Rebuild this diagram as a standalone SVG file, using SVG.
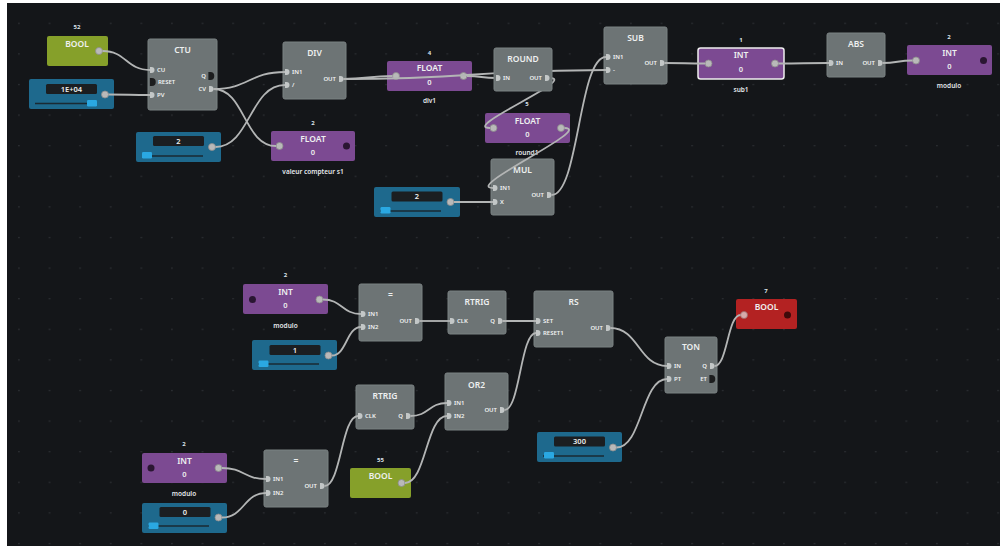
<svg xmlns="http://www.w3.org/2000/svg" xmlns:xlink="http://www.w3.org/1999/xlink" width="1000" height="546" viewBox="0 0 1000 546">
  <style>
    .fn { fill: #6d7475; stroke: #7b8283; stroke-width: 1; }
    .pu { fill: #7c4a92; }
    .gr { fill: #86a02a; }
    .rd { fill: #b32222; }
    .sl { fill: #1e698d; }
    .tb { fill: #1b1e21; }
    .trk { stroke: #1a2a33; stroke-width: 1.6; }
    .th { fill: #2aa8e2; }
    .ttl { font-family: "Noto Sans", "Liberation Sans", sans-serif; font-size: 8.5px; font-weight: 600; fill: #eef0f0; text-anchor: middle; }
    .pl { font-family: "Noto Sans", "Liberation Sans", sans-serif; font-size: 6px; font-weight: 600; fill: #f0f2f2; }
    .pr { font-family: "Noto Sans", "Liberation Sans", sans-serif; font-size: 6px; font-weight: 600; fill: #f0f2f2; text-anchor: end; }
    .val { font-family: "Noto Sans", "Liberation Sans", sans-serif; font-size: 7.5px; font-weight: 600; fill: #eceeee; text-anchor: middle; }
    .cap { font-family: "Noto Sans", "Liberation Sans", sans-serif; font-size: 6px; font-weight: 700; fill: #dce3ea; text-anchor: middle; }
    .sub { font-family: "Noto Sans", "Liberation Sans", sans-serif; font-size: 6.5px; font-weight: 600; fill: #e4e8ec; text-anchor: middle; }
    .w { fill: none; stroke: #b3b5b5; stroke-width: 1.8; }
    .pin { fill: #c3c7c7; }
    .pinD { fill: #1c1d1e; }
    .po { fill: #b9b9b9; stroke: #8c8c8c; stroke-width: 0.8; }
    .pd { fill: #2a1632; }
    .sel { stroke: #eeeeee; stroke-width: 1.5; }
  </style>
  <defs>
    <pattern id="grid" patternUnits="userSpaceOnUse" x="18" y="22.7" width="30.6" height="30.6">
      <rect x="0" y="0" width="1.8" height="1.2" fill="#2b2e32"/>
    </pattern>
    <path id="pin" d="M-2,-3 h1.5 a3,3 0 0 1 0,6 h-1.5 z"/>
  </defs>

  <!-- canvas -->
  <rect x="0" y="0" width="1000" height="546" fill="#ffffff"/>
  <rect x="7" y="3" width="993" height="543" fill="#141619"/>
  <rect x="7" y="3" width="993" height="543" fill="url(#grid)"/>

  <!-- ===== value / function nodes (under the wires) ===== -->
  <g id="bool-52">
    <rect class="gr" x="47" y="36" width="61" height="30" rx="2"/>
    <text class="cap" x="77" y="29">52</text>
    <text class="ttl" x="77" y="47">BOOL</text>
    <circle class="po" cx="99" cy="51" r="3.5"/>
  </g>

  <g id="slider-pv">
    <rect class="sl" x="29" y="79" width="85" height="30" rx="2"/>
    <rect class="tb" x="46" y="84" width="51" height="10" rx="1.5"/>
    <text class="val" x="71.5" y="91.7">1E+04</text>
    <line class="trk" x1="35" y1="103.5" x2="96" y2="103.5"/>
    <rect class="th" x="87" y="100" width="10" height="6.5" rx="1.2"/>
    <circle class="po" cx="105" cy="94.5" r="3.5"/>
  </g>

  <g id="ctu">
    <rect class="fn" x="148" y="39" width="69" height="71" rx="2"/>
    <text class="ttl" x="182.5" y="53">CTU</text>
    <use xlink:href="#pin" class="pin" x="152" y="70"/>
    <use xlink:href="#pin" class="pinD" transform="translate(152.5,82) scale(1.3)"/>
    <use xlink:href="#pin" class="pin" x="152" y="95"/>
    <use xlink:href="#pin" class="pinD" transform="translate(211,76) scale(1.3)"/>
    <use xlink:href="#pin" class="pin" x="211" y="89"/>
    <text class="pl" x="157" y="72.2">CU</text>
    <text class="pl" x="158" y="84.2">RESET</text>
    <text class="pl" x="157" y="97.2">PV</text>
    <text class="pr" x="206" y="78.2">Q</text>
    <text class="pr" x="206" y="91.2">CV</text>
  </g>

  <g id="slider-div">
    <rect class="sl" x="136" y="132" width="85" height="30" rx="2"/>
    <rect class="tb" x="153" y="136" width="51" height="10" rx="1.5"/>
    <text class="val" x="178.5" y="143.7">2</text>
    <line class="trk" x1="142" y1="156" x2="203" y2="156"/>
    <rect class="th" x="142" y="152" width="10" height="6.5" rx="1.2"/>
    <circle class="po" cx="212" cy="147" r="3.5"/>
  </g>

  <g id="div">
    <rect class="fn" x="283" y="42" width="63" height="57" rx="2"/>
    <text class="ttl" x="314.5" y="56">DIV</text>
    <use xlink:href="#pin" class="pin" x="287" y="72"/>
    <use xlink:href="#pin" class="pin" x="287" y="85"/>
    <use xlink:href="#pin" class="pin" x="341" y="79"/>
    <text class="pl" x="292" y="74.2">IN1</text>
    <text class="pl" x="292" y="87.2">/</text>
    <text class="pr" x="336" y="81.2">OUT</text>
  </g>

  <g id="float-valeur">
    <rect class="pu" x="271" y="131" width="84" height="30" rx="2"/>
    <text class="cap" x="313" y="124.5">2</text>
    <text class="ttl" x="313" y="141.5">FLOAT</text>
    <text class="val" x="313" y="154.8">0</text>
    <circle class="po" cx="279.5" cy="146" r="3.5"/>
    <circle class="pd" cx="346.5" cy="146" r="3.5"/>
    <text class="sub" x="313" y="174">valeur compteur s1</text>
  </g>

  <g id="float-div1">
    <rect class="pu" x="387" y="61" width="85" height="30" rx="2"/>
    <text class="cap" x="429.5" y="54.5">4</text>
    <text class="ttl" x="429.5" y="71.3">FLOAT</text>
    <text class="val" x="429.5" y="85">0</text>
    <circle class="po" cx="396" cy="76" r="3.5"/>
    <circle class="po" cx="463.5" cy="76" r="3.5"/>
    <text class="sub" x="429.5" y="103">div1</text>
  </g>

  <g id="float-round1">
    <rect class="pu" x="485" y="113" width="85" height="30" rx="2"/>
    <text class="cap" x="527" y="106">5</text>
    <text class="ttl" x="527.5" y="123.5">FLOAT</text>
    <text class="val" x="527.5" y="137">0</text>
    <circle class="po" cx="493.5" cy="128" r="3.5"/>
    <circle class="po" cx="561" cy="128" r="3.5"/>
    <text class="sub" x="527" y="155">round1</text>
  </g>

  <g id="slider-mul">
    <rect class="sl" x="374" y="187" width="86" height="30" rx="2"/>
    <rect class="tb" x="391.5" y="191.5" width="51" height="10" rx="1.5"/>
    <text class="val" x="417" y="199.2">2</text>
    <line class="trk" x1="380" y1="211" x2="441" y2="211"/>
    <rect class="th" x="380.5" y="207" width="10" height="6.5" rx="1.2"/>
    <circle class="po" cx="450.5" cy="202" r="3.5"/>
  </g>

  <g id="mul">
    <rect class="fn" x="491" y="159" width="63" height="56" rx="2"/>
    <text class="ttl" x="522.5" y="173">MUL</text>
    <use xlink:href="#pin" class="pin" x="495" y="188"/>
    <use xlink:href="#pin" class="pin" x="495" y="202"/>
    <use xlink:href="#pin" class="pin" x="549" y="195"/>
    <text class="pl" x="500" y="190.2">IN1</text>
    <text class="pl" x="500" y="204.2">X</text>
    <text class="pr" x="544" y="197.2">OUT</text>
  </g>

  <g id="sub">
    <rect class="fn" x="604" y="27" width="63" height="57" rx="2"/>
    <text class="ttl" x="635.5" y="41">SUB</text>
    <use xlink:href="#pin" class="pin" x="608" y="57"/>
    <use xlink:href="#pin" class="pin" x="608" y="70"/>
    <use xlink:href="#pin" class="pin" x="662" y="63"/>
    <text class="pl" x="613" y="59.2">IN1</text>
    <text class="pl" x="613" y="72.2">-</text>
    <text class="pr" x="657" y="65.2">OUT</text>
  </g>

  <g id="int-sub1">
    <rect class="pu sel" x="698" y="48" width="86" height="31" rx="2.5"/>
    <text class="cap" x="741" y="41.5">1</text>
    <text class="ttl" x="741" y="58.3">INT</text>
    <text class="val" x="741" y="72">0</text>
    <circle class="po" cx="708.5" cy="63.5" r="3.5"/>
    <circle class="po" cx="775" cy="63.5" r="3.5"/>
    <text class="sub" x="741" y="91.5">sub1</text>
  </g>

  <g id="abs">
    <rect class="fn" x="827" y="33" width="58" height="44" rx="2"/>
    <text class="ttl" x="856" y="47">ABS</text>
    <use xlink:href="#pin" class="pin" x="831" y="63"/>
    <use xlink:href="#pin" class="pin" x="880" y="63"/>
    <text class="pl" x="836" y="65.2">IN</text>
    <text class="pr" x="875" y="65.2">OUT</text>
  </g>

  <g id="int-modulo">
    <rect class="pu" x="907" y="45" width="85" height="30" rx="2"/>
    <text class="cap" x="949" y="39">2</text>
    <text class="ttl" x="949.5" y="55.7">INT</text>
    <text class="val" x="949.5" y="68.5">0</text>
    <circle class="po" cx="916" cy="60.5" r="3.5"/>
    <circle class="pd" cx="983.5" cy="60.5" r="3.5"/>
    <text class="sub" x="949" y="87.5">modulo</text>
  </g>

  <!-- lower network -->
  <g id="int-modulo-a">
    <rect class="pu" x="243" y="284" width="85" height="30" rx="2"/>
    <text class="cap" x="285.5" y="277">2</text>
    <text class="ttl" x="285.5" y="294.7">INT</text>
    <text class="val" x="285.5" y="307.8">0</text>
    <circle class="pd" cx="252.5" cy="299.5" r="3.5"/>
    <circle class="po" cx="319.5" cy="299.5" r="3.5"/>
    <text class="sub" x="285.5" y="327.5">modulo</text>
  </g>

  <g id="slider-eq-a">
    <rect class="sl" x="252" y="340" width="85" height="30" rx="2"/>
    <rect class="tb" x="269.5" y="345" width="51" height="10" rx="1.5"/>
    <text class="val" x="295" y="352.7">1</text>
    <line class="trk" x1="258" y1="364" x2="319" y2="364"/>
    <rect class="th" x="258.5" y="360.5" width="10" height="6.5" rx="1.2"/>
    <circle class="po" cx="328.5" cy="355.5" r="3.5"/>
  </g>

  <g id="eq-a">
    <rect class="fn" x="359" y="284" width="63" height="57" rx="2"/>
    <text class="ttl" x="390.5" y="298">=</text>
    <use xlink:href="#pin" class="pin" x="363" y="314"/>
    <use xlink:href="#pin" class="pin" x="363" y="327"/>
    <use xlink:href="#pin" class="pin" x="417" y="321"/>
    <text class="pl" x="368" y="316.2">IN1</text>
    <text class="pl" x="368" y="329.2">IN2</text>
    <text class="pr" x="412" y="323.2">OUT</text>
  </g>

  <g id="rtrig-a">
    <rect class="fn" x="448" y="291" width="58" height="43" rx="2"/>
    <text class="ttl" x="477" y="305">RTRIG</text>
    <use xlink:href="#pin" class="pin" x="452" y="321"/>
    <use xlink:href="#pin" class="pin" x="500" y="321"/>
    <text class="pl" x="457" y="323.2">CLK</text>
    <text class="pr" x="495" y="323.2">Q</text>
  </g>

  <g id="rs">
    <rect class="fn" x="534" y="291" width="79" height="56" rx="2"/>
    <text class="ttl" x="573.5" y="305">RS</text>
    <use xlink:href="#pin" class="pin" x="538" y="321"/>
    <use xlink:href="#pin" class="pin" x="538" y="333"/>
    <use xlink:href="#pin" class="pin" x="608" y="328"/>
    <text class="pl" x="543" y="323.2">SET</text>
    <text class="pl" x="543" y="335.2">RESET1</text>
    <text class="pr" x="603" y="330.2">OUT</text>
  </g>

  <g id="ton">
    <rect class="fn" x="665" y="337" width="52" height="56" rx="2"/>
    <text class="ttl" x="691" y="350">TON</text>
    <use xlink:href="#pin" class="pin" x="669" y="366"/>
    <use xlink:href="#pin" class="pin" x="669" y="379"/>
    <use xlink:href="#pin" class="pin" x="712" y="366"/>
    <use xlink:href="#pin" class="pinD" transform="translate(712,379) scale(1.3)"/>
    <text class="pl" x="674" y="368.2">IN</text>
    <text class="pl" x="674" y="381.2">PT</text>
    <text class="pr" x="707" y="368.2">Q</text>
    <text class="pr" x="707" y="381.2">ET</text>
  </g>

  <g id="bool-7">
    <rect class="rd" x="736" y="299" width="61" height="30" rx="2"/>
    <text class="cap" x="766" y="293">7</text>
    <text class="ttl" x="766.5" y="310">BOOL</text>
    <circle cx="744" cy="315" r="3.5" fill="#d6aaaa" stroke="#9a6a6a" stroke-width="0.8"/>
    <circle cx="787.5" cy="315" r="3.5" fill="#3e0a0a"/>
  </g>

  <g id="slider-pt">
    <rect class="sl" x="537" y="432" width="85" height="30" rx="2"/>
    <rect class="tb" x="554" y="436.5" width="51" height="10" rx="1.5"/>
    <text class="val" x="579.5" y="444.2">300</text>
    <line class="trk" x1="543" y1="456" x2="604" y2="456"/>
    <rect class="th" x="544" y="452" width="10" height="6.5" rx="1.2"/>
    <circle class="po" cx="613" cy="447.5" r="3.5"/>
  </g>

  <g id="or2">
    <rect class="fn" x="445" y="373" width="63" height="57" rx="2"/>
    <text class="ttl" x="476.5" y="388">OR2</text>
    <use xlink:href="#pin" class="pin" x="449" y="403"/>
    <use xlink:href="#pin" class="pin" x="449" y="416"/>
    <use xlink:href="#pin" class="pin" x="502" y="410"/>
    <text class="pl" x="454" y="405.2">IN1</text>
    <text class="pl" x="454" y="418.2">IN2</text>
    <text class="pr" x="497" y="412.2">OUT</text>
  </g>

  <g id="rtrig-b">
    <rect class="fn" x="356" y="385" width="58" height="44" rx="2"/>
    <text class="ttl" x="385" y="399">RTRIG</text>
    <use xlink:href="#pin" class="pin" x="360" y="416"/>
    <use xlink:href="#pin" class="pin" x="408" y="416"/>
    <text class="pl" x="365" y="418.2">CLK</text>
    <text class="pr" x="403" y="418.2">Q</text>
  </g>

  <g id="int-modulo-b">
    <rect class="pu" x="142" y="453" width="85" height="30" rx="2"/>
    <text class="cap" x="184" y="446">2</text>
    <text class="ttl" x="184.5" y="463.7">INT</text>
    <text class="val" x="184.5" y="476.8">0</text>
    <circle class="pd" cx="151" cy="468" r="3.5"/>
    <circle class="po" cx="218.5" cy="468" r="3.5"/>
    <text class="sub" x="184" y="496">modulo</text>
  </g>

  <g id="slider-eq-b">
    <rect class="sl" x="142" y="503" width="85" height="30" rx="2"/>
    <rect class="tb" x="159.5" y="507" width="51" height="10" rx="1.5"/>
    <text class="val" x="185" y="514.7">0</text>
    <line class="trk" x1="148" y1="526" x2="209" y2="526"/>
    <rect class="th" x="148.5" y="522.5" width="10" height="6.5" rx="1.2"/>
    <circle class="po" cx="218.5" cy="517.5" r="3.5"/>
  </g>

  <g id="eq-b">
    <rect class="fn" x="264" y="450" width="64" height="57" rx="2"/>
    <text class="ttl" x="296" y="464">=</text>
    <use xlink:href="#pin" class="pin" x="268" y="479"/>
    <use xlink:href="#pin" class="pin" x="268" y="493"/>
    <use xlink:href="#pin" class="pin" x="322" y="486"/>
    <text class="pl" x="273" y="481.2">IN1</text>
    <text class="pl" x="273" y="495.2">IN2</text>
    <text class="pr" x="317" y="488.2">OUT</text>
  </g>

  <g id="bool-55">
    <rect class="gr" x="350" y="468" width="61" height="30" rx="2"/>
    <text class="cap" x="380.5" y="461.5">55</text>
    <text class="ttl" x="380.5" y="479">BOOL</text>
    <circle class="po" cx="401.5" cy="483" r="3.5"/>
  </g>

  <!-- ===== connectors ===== -->
  <g id="connectors">
    <path class="w" d="M102.5,51 C126.5,51 126,70 150,70"/>
    <path class="w" d="M108.5,94.5 C129,94.5 129,95 150,95"/>
    <path class="w" d="M213.5,89 C249,89 249,72 285,72"/>
    <path class="w" d="M213.5,89 C245,89 244,146 276,146"/>
    <path class="w" d="M215.5,147 C250,147 250,85 285,85"/>
    <path class="w" d="M343.5,79 C368,79 368,76 392.5,76"/>
    <path class="w" d="M343.5,79 C475,79 475,70 606,70"/>
    <path class="w" d="M467,76 C481.5,76 481.5,78 496,78"/>
    <path class="w" d="M549.5,78 C579.5,78 460,128 490,128"/>
    <path class="w" d="M564.5,128 C594.5,128 463,188 493,188"/>
    <path class="w" d="M454,202 L493,202"/>
    <path class="w" d="M551.5,195 C579,195 578.5,57 606,57"/>
    <path class="w" d="M664.5,63 C684.5,63 685,63.5 705,63.5"/>
    <path class="w" d="M778.5,63.5 C804,63.5 803.5,63 829,63"/>
    <path class="w" d="M882.5,63 C897.5,63 897.5,60.5 912.5,60.5"/>
    <path class="w" d="M323,299.5 C342,299.5 342,314 361,314"/>
    <path class="w" d="M332,355.5 C346.5,355.5 346.5,327 361,327"/>
    <path class="w" d="M419.5,321 L450,321"/>
    <path class="w" d="M502.5,321 L536,321"/>
    <path class="w" d="M504.5,410 C520,410 520.5,333 536,333"/>
    <path class="w" d="M610.5,328 C639,328 638.5,366 667,366"/>
    <path class="w" d="M616.5,447.5 C642,447.5 641.5,379 667,379"/>
    <path class="w" d="M714.5,366 C727.5,366 727.5,315 740.5,315"/>
    <path class="w" d="M222,468 C244,468 244,479 266,479"/>
    <path class="w" d="M222,517.5 C244,517.5 244,493 266,493"/>
    <path class="w" d="M324.5,486 C341,486 341.5,416 358,416"/>
    <path class="w" d="M410.5,416 C429,416 428.5,403 447,403"/>
    <path class="w" d="M405,483 C426,483 426,416 447,416"/>
  </g>

  <!-- ROUND sits above the wire passing behind it -->
  <g id="round">
    <rect class="fn" x="494" y="48" width="58" height="43" rx="2"/>
    <text class="ttl" x="523" y="62">ROUND</text>
    <use xlink:href="#pin" class="pin" x="498" y="78"/>
    <use xlink:href="#pin" class="pin" x="547" y="78"/>
    <text class="pl" x="503" y="80.2">IN</text>
    <text class="pr" x="542" y="80.2">OUT</text>
  </g>
</svg>
